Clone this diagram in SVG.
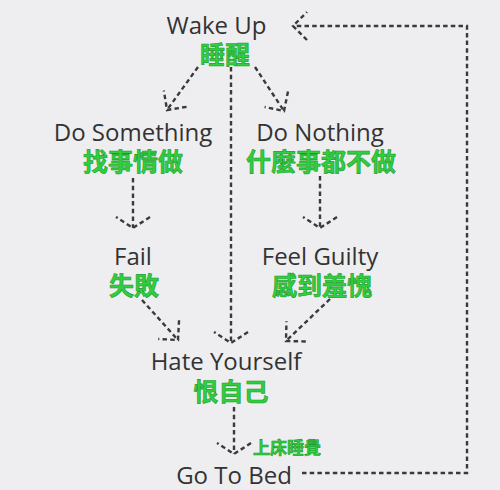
<svg xmlns="http://www.w3.org/2000/svg" width="500" height="490" viewBox="0 0 500 490">
<style>
.bg{fill:#eeeef1}
.en{font-family:"Open Sans","Liberation Sans",sans-serif;font-size:24px;fill:#333;text-anchor:middle}
.zh{font-family:"Liberation Sans","Noto Sans CJK TC","Noto Sans CJK SC",sans-serif;font-weight:bold;font-size:25px;fill:#2fcf3f;stroke:#1d9a2c;stroke-width:0.6;text-anchor:middle}
.zs{font-size:17px}
.c{fill:none;stroke:#3a3a3c;stroke-width:2.4;stroke-dasharray:4.5 3.2}
.cv{marker-end:url(#chevV)}
.cd{marker-end:url(#chevD)}
.mk{fill:none;stroke:#3a3a3c;stroke-width:2.4;stroke-dasharray:4.5 3.2}
</style>
<defs>
<marker id="chevV" markerUnits="userSpaceOnUse" orient="auto" viewBox="-25 -25 50 50" markerWidth="50" markerHeight="50" refX="0" refY="0">
<path class="mk" d="M-11,-17 L0,0 L-11,17"/>
</marker>
<marker id="chevD" markerUnits="userSpaceOnUse" orient="auto" viewBox="-25 -25 50 50" markerWidth="50" markerHeight="50" refX="0" refY="0">
<path class="mk" d="M-14,-14 L0,0 L-14,14"/>
</marker>
</defs>
<rect class="bg" x="0" y="0" width="500" height="490"/>
<g id="connectors">
<path class="c cd" d="M198,67 L167,110"/>
<path class="c cd" d="M255,67 L284,111"/>
<path class="c cv" d="M231,67 L231,343"/>
<path class="c cv" d="M133,178 L133,228"/>
<path class="c cv" d="M320,176 L320,228"/>
<path class="c cd" d="M142,300 L178,340"/>
<path class="c cd" d="M330,299 L286,341"/>
<path class="c cv" d="M234,407 L234,454"/>
<path class="c cd" d="M302,473 L467,473 L467,26 L293,26"/>
</g>
<g id="wake-up">
<text class="en" x="216.5" y="34">Wake Up</text>
<text class="zh" x="225" y="64">睡醒</text>
</g>
<g id="do-something">
<text class="en" x="133" y="141">Do Something</text>
<text class="zh" x="133" y="171">找事情做</text>
</g>
<g id="do-nothing">
<text class="en" x="320" y="141">Do Nothing</text>
<text class="zh" x="321" y="171">什麼事都不做</text>
</g>
<g id="fail">
<text class="en" x="133" y="265">Fail</text>
<text class="zh" x="134" y="295">失敗</text>
</g>
<g id="feel-guilty">
<text class="en" x="320" y="265">Feel Guilty</text>
<text class="zh" x="322" y="295">感到羞愧</text>
</g>
<g id="hate-yourself">
<text class="en" x="226" y="370">Hate Yourself</text>
<text class="zh" x="231" y="401">恨自己</text>
</g>
<g id="go-to-bed">
<text class="zh zs" x="287" y="454">上床睡覺</text>
<text class="en" x="234" y="484">Go To Bed</text>
</g>
</svg>
